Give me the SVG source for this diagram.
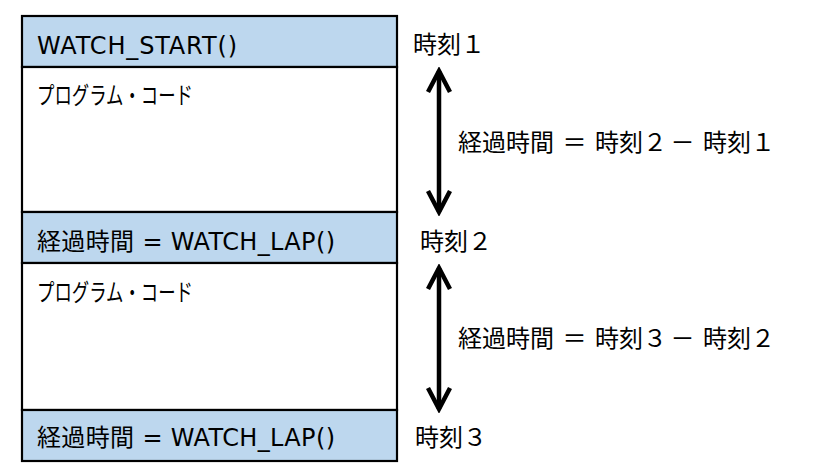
<svg xmlns="http://www.w3.org/2000/svg" width="837" height="469" viewBox="0 0 837 469">
<style>
.band{fill:#BDD7EE;stroke:#000;stroke-width:2.2}
.code{fill:#fff;stroke:#000;stroke-width:2.2}
.t{font-family:"DejaVu Sans","Noto Sans CJK JP",sans-serif;font-size:24px;fill:#000}
.k{font-family:"Noto Sans CJK JP","DejaVu Sans",sans-serif;font-size:24px;fill:#000}
.arr{stroke:#000;stroke-width:4.5;fill:none}
</style>
<defs>
<marker id="ah" viewBox="-26 -15 30 30" markerWidth="30" markerHeight="30" refX="0" refY="0" orient="auto-start-reverse" markerUnits="userSpaceOnUse">
<path d="M-21,-11 L0,0 L-21,11" fill="none" stroke="#000" stroke-width="4.5"/>
</marker>
</defs>
<g id="start">
<rect class="band" x="22" y="16" width="375" height="51"/>
<text class="t" x="37" y="54" textLength="200">WATCH_START()</text>
</g>
<g id="code1">
<rect class="code" x="22" y="67" width="375" height="145"/>
<text class="k" x="37" y="104" textLength="156" lengthAdjust="spacingAndGlyphs">プログラム・コード</text>
</g>
<g id="lap1">
<rect class="band" x="22" y="212" width="375" height="51"/>
<text class="t" x="37" y="250" textLength="298">経過時間 = WATCH_LAP()</text>
</g>
<g id="code2">
<rect class="code" x="22" y="263" width="375" height="147"/>
<text class="k" x="37" y="301" textLength="156" lengthAdjust="spacingAndGlyphs">プログラム・コード</text>
</g>
<g id="lap2">
<rect class="band" x="22" y="410" width="375" height="51"/>
<text class="t" x="37" y="446" textLength="298">経過時間 = WATCH_LAP()</text>
</g>
<g id="time1"><text class="t" x="413" y="53">時刻１</text></g>
<g id="time2"><text class="t" x="420" y="250">時刻２</text></g>
<g id="time3"><text class="t" x="415" y="446">時刻３</text></g>
<g id="elapsed1"><text class="t" y="151"><tspan x="458">経過時間</tspan><tspan x="562.5">＝</tspan><tspan x="595">時刻２</tspan><tspan x="670.5">－</tspan><tspan x="703">時刻１</tspan></text></g>
<g id="elapsed2"><text class="t" y="347"><tspan x="458">経過時間</tspan><tspan x="562.5">＝</tspan><tspan x="595">時刻３</tspan><tspan x="670.5">－</tspan><tspan x="703">時刻２</tspan></text></g>
<g id="connectors">
<line class="arr" x1="439" y1="71" x2="439" y2="212" marker-start="url(#ah)" marker-end="url(#ah)"/>
<line class="arr" x1="439" y1="268" x2="439" y2="409" marker-start="url(#ah)" marker-end="url(#ah)"/>
</g>
</svg>
